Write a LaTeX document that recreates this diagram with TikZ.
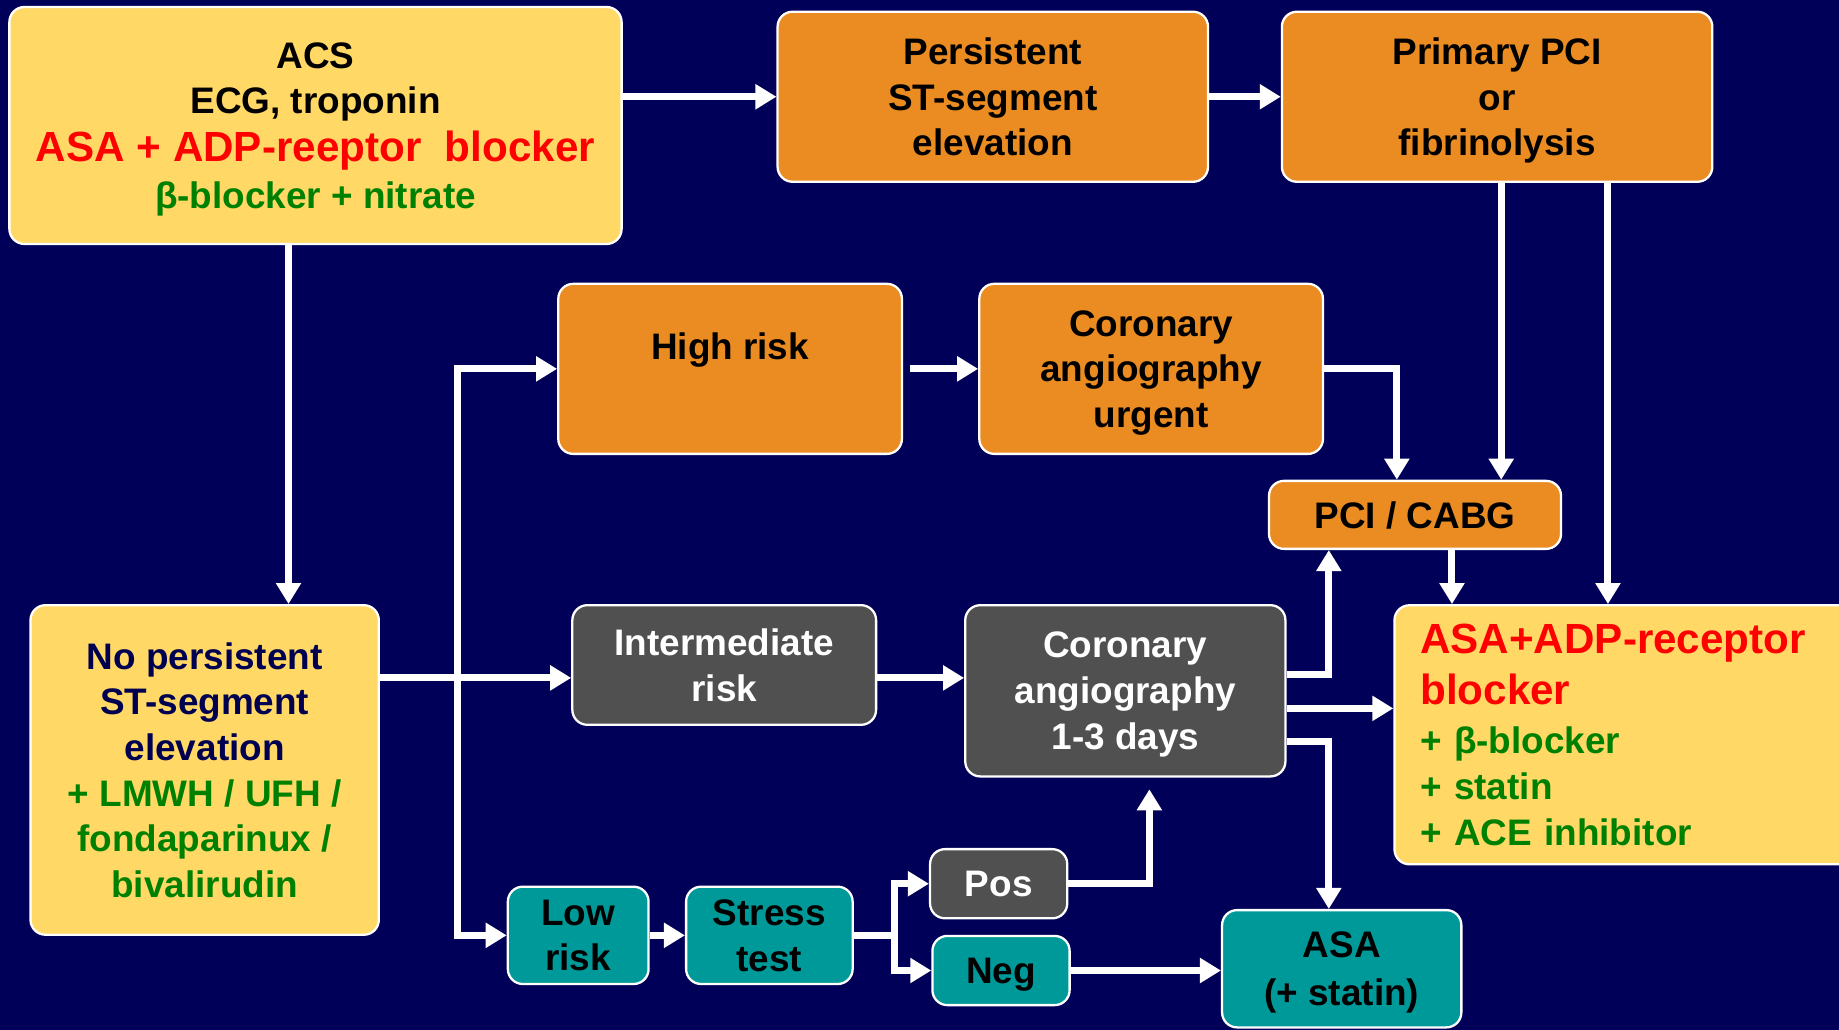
\documentclass[tikz,border=0pt]{standalone}
\usepackage{fontspec}
\setmainfont{Liberation Sans}
\usepackage{tikz}
\usetikzlibrary{arrows.meta,calc}

\definecolor{navy}{RGB}{0,0,88}
\definecolor{pale}{RGB}{255,216,102}
\definecolor{amber}{RGB}{235,140,34}
\definecolor{slate}{RGB}{80,80,80}
\definecolor{teal2}{RGB}{0,153,153}
\definecolor{leaf}{RGB}{0,128,0}
\definecolor{ink}{RGB}{0,0,80}

\newcommand{\bigred}[1]{{\color{red}\fontsize{24}{29}\selectfont #1}}

\tikzset{
    box/.style={draw=white,line width=1.3pt,rounded corners=0.3cm,align=center,
        inner sep=2pt,text depth=0pt,font=\fontsize{21}{26}\selectfont\bfseries},
    sz/.style 2 args={minimum width=#1*0.02346cm,minimum height=#2*0.02346cm},
    arr/.style={draw=white,line width=4pt,-{Triangle[length=0.42cm,width=0.48cm]}},
    ln/.style={draw=white,line width=4pt}
}

\begin{document}
\begin{tikzpicture}[x=0.02346cm,y=-0.02346cm]
    \useasboundingbox (0,0) rectangle (1568,878);
    \fill[navy] (0,0) rectangle (1568,878);
    \clip (0,0) rectangle (1568,878);

    \node[box,fill=pale,sz={522}{202}] (acs) at (269,107) {ACS\\ ECG, troponin\\[1pt] \bigred{ASA + ADP-reeptor\ \ blocker}\\[1pt] {\color{leaf}β-blocker + nitrate}};
    \node[box,fill=amber,sz={367}{145}] (pers) at (846.5,82.5) {Persistent\\ ST-segment\\ elevation};
    \node[box,fill=amber,sz={367}{145}] (ppci) at (1276.5,82.5) {Primary PCI\\ or\\ fibrinolysis};
    \node[box,fill=amber,sz={293}{145}] (high) at (622.5,314.5) {High risk\\ \mbox{}};
    \node[box,fill=amber,sz={293}{145}] (urg) at (981.5,314.5) {Coronary\\ angiography\\ urgent};
    \node[box,fill=amber,sz={249}{58}] (cabg) at (1206.5,439) {PCI / CABG};
    \node[box,fill=pale,text=ink,sz={297}{281}] (nopers) at (174.5,656.5) {No persistent\\ ST-segment\\ elevation\\ {\color{leaf}+ LMWH / UFH /}\\ {\color{leaf}fondaparinux /}\\ {\color{leaf}bivalirudin}};
    \node[box,fill=slate,text=white,sz={259}{102}] (inter) at (617.5,567) {Intermediate\\ risk};
    \node[box,fill=slate,text=white,sz={273}{146}] (cor) at (959.5,589) {Coronary\\ angiography\\ 1-3 days};
    \node[box,fill=pale,anchor=west,align=left,text depth=,inner xsep=0.516cm,text width=8.63cm,minimum height=5.18cm] (asaadp) at (1188,626.5) {\bigred{ASA+ADP-receptor}\\[3pt] \bigred{blocker}\\[2pt] {\color{leaf}+ β-blocker}\\ {\color{leaf}+ statin}\\ {\color{leaf}+ ACE inhibitor}};
    \node[box,fill=teal2,sz={120}{83}] (low) at (493,797.5) {Low\\ risk};
    \node[box,fill=teal2,sz={142}{83}] (stress) at (656,797.5) {Stress\\ test};
    \node[box,fill=slate,text=white,sz={117}{59}] (pos) at (851.5,753.5) {Pos};
    \node[box,fill=teal2,sz={117}{59}] (neg) at (853.5,827.5) {Neg};
    \node[box,fill=teal2,sz={204}{100}] (asast) at (1144,826) {ASA\\[1pt] (+ statin)};

    \draw[arr] (acs.east |- pers.west) -- (pers.west);
    \draw[arr] (pers.east) -- (ppci.west);
    \coordinate (acsout) at ($(acs.south)+(-23,0)$);
    \draw[arr] (acsout) -- (acsout |- nopers.north);
    \coordinate (ppciA) at ($(ppci.south)+(3.5,0)$);
    \coordinate (ppciB) at ($(ppci.south)+(94.5,0)$);
    \draw[arr] (ppciA) -- (ppciA |- cabg.north);
    \draw[arr] (ppciB) -- (ppciB |- asaadp.north);
    \draw[arr,shorten <=0.14cm] (high.east) -- (urg.west);
    \draw[arr] (urg.east) -| ($(cabg.north)+(-15.5,0)$);

    \coordinate (fork) at (390,578);
    \draw[ln] (nopers.east |- fork) -- (fork);
    \draw[arr] (fork) -- (fork -| inter.west);
    \draw[arr] (fork) |- (high.west);
    \draw[arr] (fork) |- (low.west);
    \draw[arr] (inter.east |- fork) -- (fork -| cor.west);

    \coordinate (corA) at ($(cor.east)+(0,-14)$);
    \coordinate (corB) at ($(cor.east)+(0,15)$);
    \coordinate (corC) at ($(cor.east)+(0,43)$);
    \draw[arr] (corA) -| ($(cabg.south)+(-73.5,0)$);
    \draw[arr] (corB) -- (corB -| asaadp.west);
    \draw[arr] (corC) -| ($(asast.north)+(-11,0)$);
    \coordinate (cabgout) at ($(cabg.south)+(31.5,0)$);
    \draw[arr] (cabgout) -- (cabgout |- asaadp.north);

    \draw[arr] (low.east) -- (stress.west);
    \coordinate (sfork) at ($(stress.east)+(35,0)$);
    \draw[ln] (stress.east) -- (sfork);
    \draw[arr] (sfork) |- (pos.west);
    \draw[arr] (sfork) |- (neg.west);
    \draw[arr] (pos.east) -| ($(cor.south)+(20.5,10)$);
    \draw[arr] (neg.east) -- (neg.east -| asast.west);
\end{tikzpicture}
\end{document}
